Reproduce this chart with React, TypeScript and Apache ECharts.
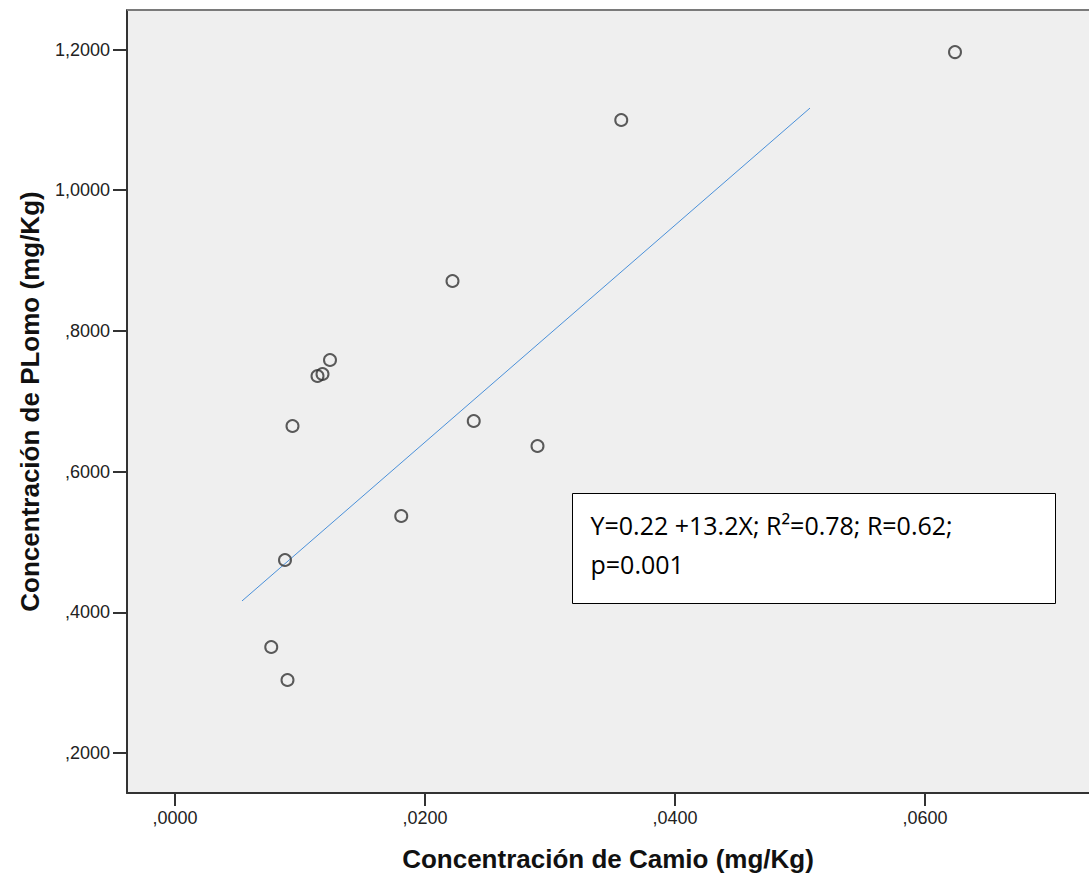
import React, { useEffect, useRef } from "react";
import * as echarts from "echarts";

const camio: number[] = [0.0624, 0.0357, 0.0222, 0.0124, 0.0114, 0.0118, 0.0094, 0.0239, 0.029, 0.0181, 0.0088, 0.0077, 0.009];
const plomo: number[] = [1.1964, 1.0998, 0.8709, 0.7586, 0.7359, 0.7387, 0.6648, 0.6719, 0.6364, 0.5369, 0.4743, 0.3507, 0.3038];
const fitX: number[] = [0.00536, 0.0508];
const fitY: number[] = [0.4161, 1.1168];
const xTicks: number[] = [0, 0.02, 0.04, 0.06];
const yTicks: number[] = [0.2, 0.4, 0.6, 0.8, 1.0, 1.2];
const xTitle = "Concentración de Camio (mg/Kg)";
const yTitle = "Concentración de PLomo (mg/Kg)";
const noteLine1 = "Y=0.22 +13.2X; R²=0.78; R=0.62;";
const noteLine2 = "p=0.001";

const fmt = (v: number) => {
  const s = v.toFixed(4).replace(".", ",");
  return s.startsWith("0,") ? s.slice(1) : s;
};

export default function App() {
  const ref = useRef<HTMLDivElement>(null);
  useEffect(() => {
    if (!ref.current) return;
    const chart = echarts.init(ref.current, null, { renderer: "svg" });
    const axisFont = { fontFamily: "Liberation Sans, Arial", fontSize: 18, color: "#222" };
    const titleFont = { fontFamily: "Liberation Sans, Arial", fontSize: 26, fontWeight: "bold", color: "#111" };
    chart.setOption({
      animation: false,
      backgroundColor: "#ffffff",
      grid: {
        left: 127,
        top: 10,
        right: 0,
        bottom: 86,
        show: true,
        backgroundColor: "#efefef",
        borderWidth: 0,
        containLabel: false,
      },
      xAxis: {
        type: "value",
        min: -0.00384,
        max: 0.07312,
        name: xTitle,
        nameLocation: "middle",
        nameGap: 53,
        nameTextStyle: titleFont,
        axisLine: { show: true, onZero: false, lineStyle: { color: "#333", width: 2 } },
        axisTick: { show: true, length: 13, lineStyle: { color: "#333", width: 2 }, customValues: xTicks },
        axisLabel: { ...axisFont, margin: 16, formatter: (v: number) => fmt(v), customValues: xTicks },
        splitLine: { show: false },
      },
      yAxis: {
        type: "value",
        min: 0.1431,
        max: 1.2562,
        name: yTitle,
        nameLocation: "middle",
        nameRotate: 90,
        nameGap: 84,
        nameTextStyle: titleFont,
        axisLine: { show: true, onZero: false, lineStyle: { color: "#333", width: 2 } },
        axisTick: { show: true, length: 14, lineStyle: { color: "#333", width: 2 }, customValues: yTicks },
        axisLabel: { ...axisFont, margin: 17, formatter: (v: number) => fmt(v), customValues: yTicks },
        splitLine: { show: false },
      },
      series: [
        {
          type: "line",
          data: fitX.map((x, i) => [x, fitY[i]]),
          symbol: "none",
          lineStyle: { color: "#4a90d9", width: 1 },
          z: 2,
        },
        {
          type: "scatter",
          data: camio.map((x, i) => [x, plomo[i]]),
          symbol: "circle",
          symbolSize: 12,
          itemStyle: { color: "rgba(0,0,0,0)", borderColor: "#333", borderWidth: 2 },
          z: 3,
        },
      ],
      graphic: [
        {
          type: "line",
          shape: { x1: 127, y1: 10, x2: 1089, y2: 10 },
          style: { stroke: "#7a7a7a", lineWidth: 2 },
          z: 10,
        },
        {
          type: "group",
          left: 572,
          top: 493,
          children: [
            {
              type: "rect",
              shape: { x: 0, y: 0, width: 483, height: 110 },
              style: { fill: "#ffffff", stroke: "#000", lineWidth: 1 },
            },
            {
              type: "text",
              x: 18,
              y: 31,
              style: { text: noteLine1, font: "25px 'Open Sans', 'Noto Sans', sans-serif", fill: "#000", verticalAlign: "middle" },
            },
            {
              type: "text",
              x: 18,
              y: 70,
              style: { text: noteLine2, font: "25px 'Open Sans', 'Noto Sans', sans-serif", fill: "#000", verticalAlign: "middle" },
            },
          ],
        },
      ],
    });
    return () => chart.dispose();
  }, []);
  return <div ref={ref} style={{ position: "fixed", left: 0, top: 0, width: 1089, height: 879 }} />;
}
